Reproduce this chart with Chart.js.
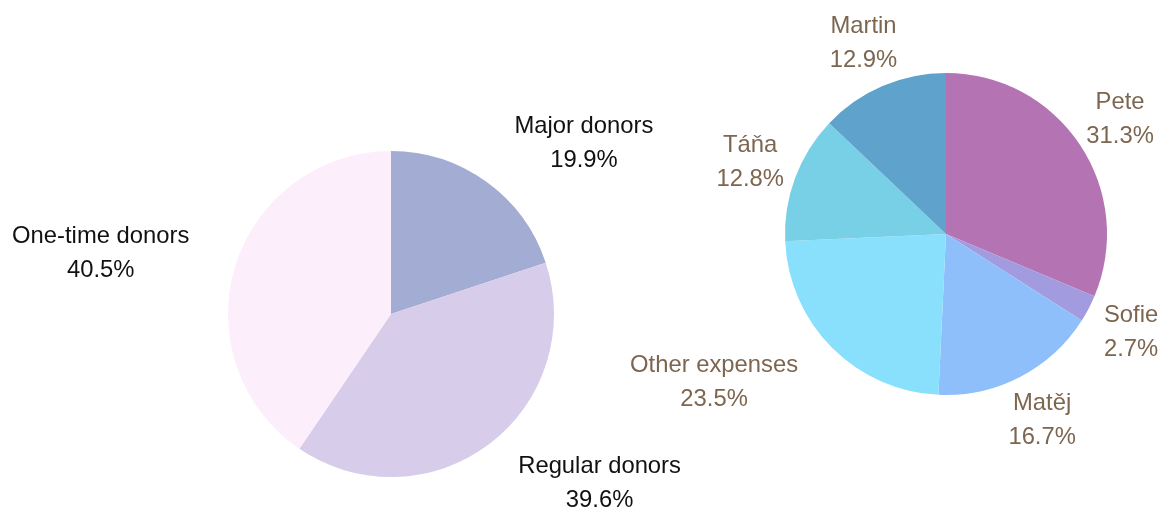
<!DOCTYPE html>
<html>
<head>
<meta charset="utf-8">
<script src="https://cdn.jsdelivr.net/npm/chart.js@4"></script>
<style>
  body { margin: 0; background: #fff; }
  .wrap { position: relative; width: 1162px; height: 512px; }
  .wrap canvas { position: absolute; left: 0; top: 0; }
</style>
</head>
<body>
<div class="wrap">
  <canvas id="donorsChart" width="1162" height="512"></canvas>
  <canvas id="expensesChart" width="1162" height="512"></canvas>
</div>
<script>
// Donors pie (left)
const donorLabels = ["Major donors", "Regular donors", "One-time donors"];
const donorValues = [19.9, 39.6, 40.5];
const donorColors = ["#A3ACD2", "#D7CCE9", "#FDEEFC"];

// Expenses pie (right)
const expenseLabels = ["Pete", "Sofie", "Matěj", "Other expenses", "Táňa", "Martin"];
const expenseValues = [31.3, 2.7, 16.7, 23.5, 12.8, 12.9];
const expenseColors = ["#B473B2", "#A39BE0", "#8FBFFA", "#88E0FD", "#78D0E6", "#5FA2CB"];

// Draws "name / xx.x%" outside each slice; centred on the anchor point
// unless the box would run into the pie, then it is pushed sideways.
const outsideLabels = {
    id: "outsideLabels",
    afterDatasetsDraw(chart, args, opts) {
        const ctx = chart.ctx;
        const meta = chart.getDatasetMeta(0);
        const values = chart.data.datasets[0].data;
        const lineHeight = 34;
        ctx.save();
        ctx.font = "23.8px 'Liberation Sans', Arial, sans-serif";
        ctx.fillStyle = opts.color;
        ctx.textAlign = "center";
        ctx.textBaseline = "middle";
        meta.data.forEach((arc, i) => {
            const p = arc.getProps(["x", "y", "startAngle", "endAngle", "outerRadius"], true);
            const mid = (p.startAngle + p.endAngle) / 2;
            const d = p.outerRadius + opts.offset;
            let cx = p.x + Math.cos(mid) * d;
            const cy = p.y + Math.sin(mid) * d + 1;
            const lines = [chart.data.labels[i], values[i].toFixed(1) + "%"];
            const w = Math.max(...lines.map(t => ctx.measureText(t).width));
            const h = lines.length * lineHeight;
            // does a centred box hit the circle?
            const nx = Math.max(cx - w / 2, Math.min(p.x, cx + w / 2));
            const ny = Math.max(cy - h / 2, Math.min(p.y, cy + h / 2));
            if (Math.hypot(nx - p.x, ny - p.y) < p.outerRadius) {
                cx += Math.sign(Math.cos(mid)) * w / 2;
            }
            lines.forEach((t, k) => {
                ctx.fillText(t, cx, cy + (k - (lines.length - 1) / 2) * lineHeight);
            });
        });
        ctx.restore();
    }
};

function makePie(id, labels, values, colors, padding, textColor) {
    return new Chart(document.getElementById(id), {
        type: "pie",
        data: {
            labels: labels,
            datasets: [{
                data: values,
                backgroundColor: colors,
                borderWidth: 0,
                hoverOffset: 0
            }]
        },
        options: {
            responsive: false,
            animation: false,
            layout: { padding: padding },
            plugins: {
                legend: { display: false },
                tooltip: { enabled: false },
                outsideLabels: { color: textColor, offset: 48 }
            }
        },
        plugins: [outsideLabels]
    });
}

const donorsChart = makePie("donorsChart", donorLabels, donorValues, donorColors,
    { left: 228, right: 608, top: 151, bottom: 35 }, "#111111");
const expensesChart = makePie("expensesChart", expenseLabels, expenseValues, expenseColors,
    { left: 785, right: 55, top: 73, bottom: 117 }, "#7D6650");
</script>
</body>
</html>
